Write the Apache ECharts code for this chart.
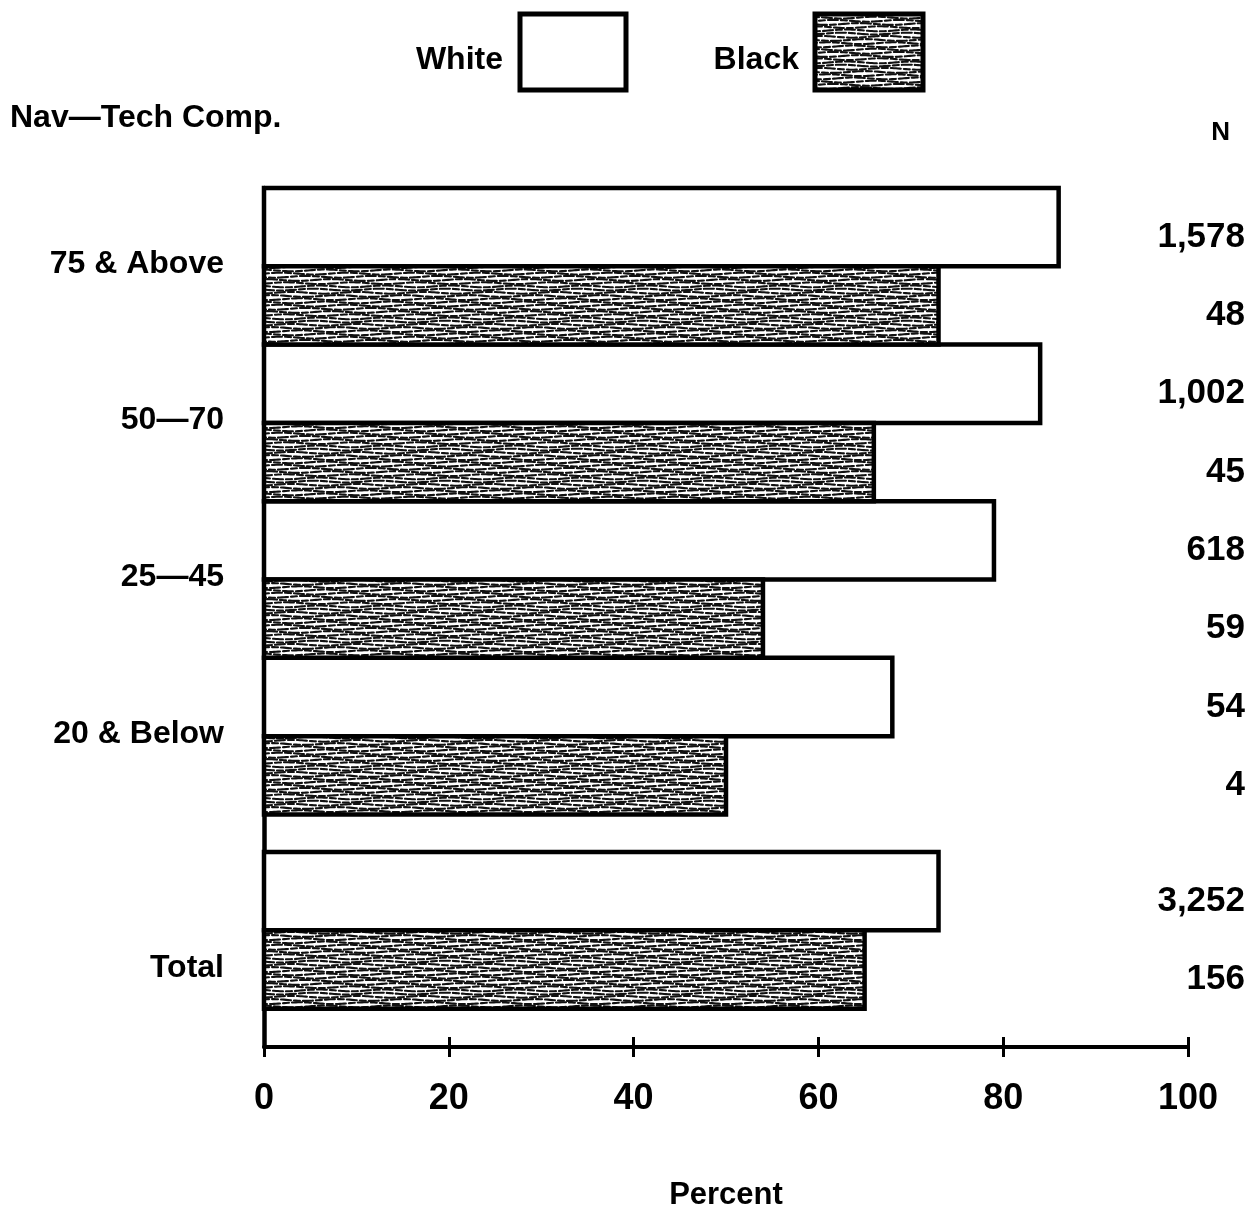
<!DOCTYPE html>
<html><head><meta charset="utf-8">
<script src="https://cdn.jsdelivr.net/npm/echarts@6/dist/echarts.min.js"></script>
<style>html,body{margin:0;padding:0;background:#fff}#c{width:1251px;height:1209px}</style>
</head><body><div id="c"></div>
<script>
// ---- data ----
const categories = ['75 & Above', '50—70', '25—45', '20 & Below', 'Total'];
const whitePct = [86, 84, 79, 68, 73];
const blackPct = [73, 66, 54, 50, 65];
const whiteN = ['1,578', '1,002', '618', '54', '3,252'];
const blackN = ['48', '45', '59', '4', '156'];
const xTicks = [0, 20, 40, 60, 80, 100];
const title = 'Nav—Tech Comp.';
const nHeader = 'N';
const seriesNames = ['White', 'Black'];

// ---- styling helpers ----
const FONT = "'Liberation Sans', Arial, sans-serif";
const GAP_BEFORE_TOTAL = 0.48;
function slotStart(i) { return 2 * i + (i === categories.length - 1 ? GAP_BEFORE_TOTAL : 0); }

function makePattern() {
  const w = 132, h = 32, rows = 10;
  const step = h / rows;
  const dashOff = [0, 11, 5, 16, 3, 14, 8, 19, 2, 13];
  const phase = [0, 2.1, 4.0, 1.3, 5.2, 3.1, 0.7, 4.6, 2.6, 5.8];
  const c = document.createElement('canvas'); c.width = w; c.height = h;
  const g = c.getContext('2d');
  g.fillStyle = '#fff'; g.fillRect(0, 0, w, h);
  g.strokeStyle = '#111'; g.lineWidth = 2.1; g.lineCap = 'round';
  for (let k = -1; k <= rows; k++) {
    const km = ((k % rows) + rows) % rows;
    g.setLineDash([10, 3, 6, 3]); g.lineDashOffset = dashOff[km];
    g.beginPath();
    for (let x = 0; x <= w; x += 2) {
      const y = k * step + 1.6 + 0.9 * Math.sin(2 * Math.PI * x / 66 + phase[km]);
      if (x === 0) g.moveTo(x, y); else g.lineTo(x, y);
    }
    g.stroke();
  }
  return c;
}
const patternCanvas = makePattern();
const blackFill = { image: patternCanvas, repeat: 'repeat' };
const fills = ['#ffffff', blackFill];

const chart = echarts.init(document.getElementById('c'), null, { renderer: 'canvas' });
const W = 1251;

function barSeries(k, values, nLabels) {
  return {
    type: 'custom', name: seriesNames[k],
    data: values.map((v, i) => [v, i]),
    renderItem: function (params, api) {
      const v = api.value(0), i = api.value(1);
      const y0 = slotStart(i) + k;
      const p0 = api.coord([0, y0]);
      const p1 = api.coord([v, y0]);
      const h = api.size([0, 1])[1];
      return {
        type: 'group', children: [
          { type: 'rect', shape: { x: p0[0], y: p0[1], width: p1[0] - p0[0], height: h },
            style: { fill: fills[k], stroke: '#000', lineWidth: 4.5 } },
          { type: 'text', x: W - 6, y: p0[1] + h / 2 + 10,
            style: { text: nLabels[i], textAlign: 'right', textVerticalAlign: 'middle',
                     font: 'bold 35px ' + FONT, fill: '#000' } }
        ]
      };
    }
  };
}

const labelSeries = {
  type: 'custom', name: 'labels', silent: true,
  data: categories.map((c, i) => [0, i]),
  renderItem: function (params, api) {
    const i = api.value(1);
    const off = (i === categories.length - 1) ? 1.48 : 0.97;
    const p = api.coord([0, slotStart(i) + off]);
    return { type: 'text', x: p[0] - 40, y: p[1],
      style: { text: categories[i], textAlign: 'right', textVerticalAlign: 'middle',
               font: 'bold 32px ' + FONT, fill: '#000' } };
  }
};

const option = {
  animation: false,
  backgroundColor: '#fff',
  grid: { left: 264, right: 63, top: 188, bottom: 162, outerBoundsMode: 'none', containLabel: false },
  xAxis: [{
    type: 'value', position: 'bottom', min: xTicks[0], max: xTicks[xTicks.length - 1], interval: xTicks[1] - xTicks[0],
    name: 'Percent', nameLocation: 'middle', nameGap: 133,
    nameTextStyle: { fontFamily: FONT, fontWeight: 'bold', fontSize: 31, color: '#000' },
    axisLine: { onZero: false, lineStyle: { color: '#000', width: 4 } },
    axisTick: { show: true, length: 10, lineStyle: { color: '#000', width: 3 } },
    axisLabel: { margin: 34, fontFamily: FONT, fontWeight: 'bold', fontSize: 36, color: '#000' },
    splitLine: { show: false }
  }, {
    type: 'value', position: 'bottom', offset: 0, min: xTicks[0], max: xTicks[xTicks.length - 1], interval: xTicks[1] - xTicks[0],
    axisLine: { show: false, onZero: false },
    axisTick: { show: true, inside: true, length: 10, lineStyle: { color: '#000', width: 3 } },
    axisLabel: { show: false }, splitLine: { show: false }
  }],
  yAxis: {
    type: 'value', inverse: true, min: 0, max: 10.97,
    axisLine: { show: true, onZero: false, lineStyle: { color: '#000', width: 4.5 } },
    axisTick: { show: false }, axisLabel: { show: false }, splitLine: { show: false }
  },
  series: [barSeries(0, whitePct, whiteN), barSeries(1, blackPct, blackN), labelSeries],
  graphic: [
    { type: 'text', left: 10, top: 102, style: { text: title, font: 'bold 32px ' + FONT, fill: '#000' } },
    { type: 'text', x: 1230, y: 133, style: { text: nHeader, textAlign: 'right', textVerticalAlign: 'middle', font: 'bold 26px ' + FONT, fill: '#000' } },
    { type: 'text', x: 503, y: 60, style: { text: seriesNames[0], textAlign: 'right', textVerticalAlign: 'middle', font: 'bold 32px ' + FONT, fill: '#000' } },
    { type: 'rect', shape: { x: 520, y: 14, width: 106, height: 76 }, style: { fill: fills[0], stroke: '#000', lineWidth: 5 } },
    { type: 'text', x: 799, y: 60, style: { text: seriesNames[1], textAlign: 'right', textVerticalAlign: 'middle', font: 'bold 32px ' + FONT, fill: '#000' } },
    { type: 'rect', shape: { x: 815, y: 14, width: 108, height: 76 }, style: { fill: blackFill, stroke: '#000', lineWidth: 5 } }
  ]
};
chart.setOption(option);
</script>
</body></html>
